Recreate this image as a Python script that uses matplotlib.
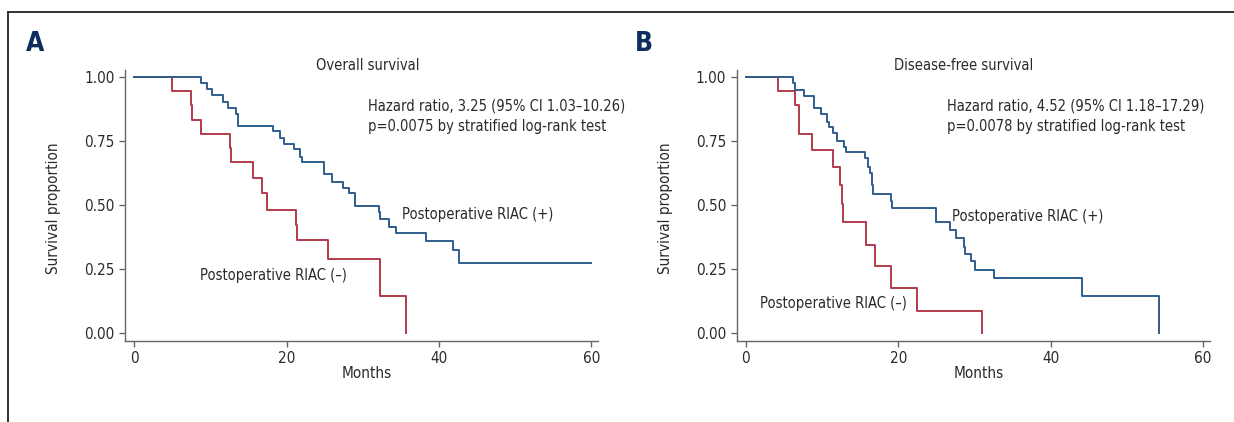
import matplotlib
matplotlib.use("Agg")
import matplotlib.pyplot as plt
from matplotlib.lines import Line2D

plt.rcParams['font.family'] = ['DejaVu Sans']
plt.rcParams['font.stretch'] = 'condensed'

# Panel A: overall survival (step times in months, survival proportion)
os_neg_t = [0, 5.0, 7.4, 7.6, 8.8, 12.6, 12.7, 15.6, 16.8, 17.4, 21.2, 21.4, 25.4, 32.2, 35.7]
os_neg_s = [1.0, 0.944, 0.889, 0.833, 0.778, 0.722, 0.667, 0.604, 0.546, 0.479, 0.420, 0.362, 0.289, 0.145, 0.0]
os_pos_t = [0, 8.8, 9.5, 10.2, 11.6, 12.3, 13.3, 13.6, 18.2, 19.1, 19.7, 21.0, 21.8, 22.0,
            24.9, 25.9, 27.4, 28.2, 29.0, 32.1, 32.3, 33.5, 34.4, 38.3, 41.8, 42.6, 60.0]
os_pos_s = [1.0, 0.975, 0.952, 0.930, 0.904, 0.880, 0.856, 0.810, 0.790, 0.760, 0.737, 0.717, 0.689, 0.666,
            0.621, 0.591, 0.568, 0.546, 0.497, 0.471, 0.445, 0.415, 0.392, 0.361, 0.324, 0.275, 0.275]

# Panel B: disease-free survival
dfs_neg_t = [0, 4.2, 6.4, 7.0, 8.7, 11.5, 12.3, 12.6, 12.8, 15.8, 16.9, 19.1, 22.5, 31.0]
dfs_neg_s = [1.0, 0.946, 0.890, 0.779, 0.714, 0.649, 0.577, 0.505, 0.432, 0.343, 0.261, 0.175, 0.088, 0.0]
dfs_pos_t = [0, 6.2, 6.5, 7.6, 8.9, 9.0, 9.8, 10.7, 10.9, 11.4, 12.0, 12.9, 13.1, 15.6, 16.0, 16.3,
             16.5, 16.7, 19.0, 19.2, 24.9, 25.0, 26.8, 27.6, 28.6, 28.7, 29.6, 30.1, 32.6, 44.1, 54.2]
dfs_pos_s = [1.0, 0.975, 0.949, 0.927, 0.897, 0.877, 0.854, 0.825, 0.806, 0.780, 0.751, 0.725, 0.706, 0.683,
             0.650, 0.624, 0.579, 0.544, 0.517, 0.490, 0.462, 0.433, 0.404, 0.371, 0.336, 0.310, 0.281,
             0.246, 0.215, 0.144, 0.0]

x_ticks = [0, 20, 40, 60]
y_ticks = [0.0, 0.25, 0.5, 0.75, 1.0]

RED = '#b23a4a'
BLUE = '#2f5d8c'
TXT = '#2a2a2a'
GRAY = '#666666'

fig = plt.figure(figsize=(12.34, 4.22), dpi=100)

# outer frame (top and left only)
fig.add_artist(Line2D([0.0065, 1.0], [0.9716, 0.9716], color='#333333', lw=1.4))
fig.add_artist(Line2D([0.0065, 0.0065], [0.0, 0.9716], color='#333333', lw=1.4))

panels = [
    dict(left=0.1013, letter='A', title='Overall survival',
         hr='Hazard ratio, 3.25 (95% CI 1.03\u201310.26)\np=0.0075 by stratified log-rank test',
         neg=(os_neg_t, os_neg_s), pos=(os_pos_t, os_pos_s),
         hr_xy=(30.7, 0.848), title_x=30.6, pos_xy=(35.1, 0.461), neg_xy=(8.7, 0.223),
         letter_x=0.0285),
    dict(left=0.597, letter='B', title='Disease-free survival',
         hr='Hazard ratio, 4.52 (95% CI 1.18\u201317.29)\np=0.0078 by stratified log-rank test',
         neg=(dfs_neg_t, dfs_neg_s), pos=(dfs_pos_t, dfs_pos_s),
         hr_xy=(26.4, 0.848), title_x=28.6, pos_xy=(27.1, 0.456), neg_xy=(1.8, 0.114),
         letter_x=0.5215),
]

for p in panels:
    ax = fig.add_axes([p['left'], 0.192, 0.3835, 0.642])
    ax.step(p['neg'][0], p['neg'][1], where='post', color=RED, lw=1.4)
    ax.step(p['pos'][0], p['pos'][1], where='post', color=BLUE, lw=1.4)
    ax.set_xlim(-1.2, 60.9)
    ax.set_ylim(-0.031, 1.027)
    ax.set_xticks(x_ticks)
    ax.set_yticks(y_ticks)
    ax.set_yticklabels(['%.2f' % v for v in y_ticks])
    for s in ['top', 'right']:
        ax.spines[s].set_visible(False)
    for s in ['left', 'bottom']:
        ax.spines[s].set_color(GRAY)
        ax.spines[s].set_linewidth(1.0)
    ax.tick_params(colors=GRAY, labelcolor=TXT, labelsize=11, length=4, width=1.0)
    ax.set_xlabel('Months', fontsize=11, color=TXT)
    ax.xaxis.set_label_coords(0.511, -0.092)
    ax.set_ylabel('Survival proportion', fontsize=11, color=TXT)
    ax.yaxis.set_label_coords(-0.135, 0.49)
    ax.text(p['title_x'], 1.043, p['title'], fontsize=10.5, color=TXT, ha='center', va='center')
    ax.text(p['hr_xy'][0], p['hr_xy'][1], p['hr'], fontsize=10.5, color=TXT, ha='left', va='center',
            linespacing=1.45)
    ax.text(p['pos_xy'][0], p['pos_xy'][1], 'Postoperative RIAC (+)', fontsize=10.5, color=TXT,
            ha='left', va='center')
    ax.text(p['neg_xy'][0], p['neg_xy'][1], 'Postoperative RIAC (\u2013)', fontsize=10.5, color=TXT,
            ha='left', va='center')
    fig.text(p['letter_x'], 0.895, p['letter'], fontsize=19, fontweight='bold', color='#0d2f5f',
             ha='center', va='center')

fig.savefig('out.png', dpi=100)
